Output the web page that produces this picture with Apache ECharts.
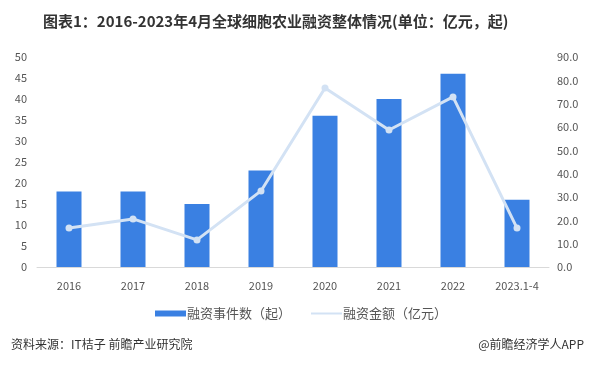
<!DOCTYPE html>
<html><head><meta charset="utf-8">
<script src="https://cdn.jsdelivr.net/npm/echarts@6/dist/echarts.min.js"></script>
<style>html,body{margin:0;padding:0;background:#fff}#c{width:591px;height:367px}</style>
</head><body><div id="c"></div>
<script>
const categories = ['2016','2017','2018','2019','2020','2021','2022','2023.1-4'];
const eventCounts = [18, 18, 15, 23, 36, 40, 46, 16];
const amounts = [16.7, 20.6, 11.6, 32.6, 76.7, 58.7, 72.9, 16.7];
const leftTicks = {min: 0, max: 50, interval: 5};
const rightTicks = {min: 0, max: 90, interval: 10};

const chart = echarts.init(document.getElementById('c'));
const font = '"Microsoft YaHei","Noto Sans CJK SC",sans-serif';
chart.setOption({
  animation: false,
  textStyle: {fontFamily: font},
  title: [{
    text: '图表1：2016-2023年4月全球细胞农业融资整体情况(单位：亿元，起)',
    left: 38, top: 9,
    textStyle: {fontSize: 15, fontWeight: 'bold', color: '#333', fontFamily: font}
  }, {
    text: '资料来源：IT桔子 前瞻产业研究院', left: 6, top: 333,
    textStyle: {fontSize: 12, fontWeight: 'normal', color: '#333', fontFamily: font}
  }, {
    text: '@前瞻经济学人APP', right: 2, top: 333,
    textStyle: {fontSize: 12, fontWeight: 'normal', color: '#333', fontFamily: font}
  }],
  legend: {
    top: 302, left: 150, itemGap: 20, itemWidth: 31, itemHeight: 6,
    textStyle: {fontSize: 13, color: '#555', fontFamily: font, padding: [0, 0, 0, -4]},
    data: [{name: '融资事件数（起）', icon: 'rect'}, {name: '融资金额（亿元）', icon: 'path://M0,4.5L31,4.5L31,6.5L0,6.5Z'}]
  },
  grid: {left: 37, right: 42, top: 57, bottom: 100, containLabel: false},
  xAxis: {
    type: 'category', data: categories,
    axisLine: {lineStyle: {color: '#d9d9d9'}}, axisTick: {show: false},
    axisLabel: {color: '#555', fontSize: 11, margin: 13}
  },
  yAxis: [{
    type: 'value', min: leftTicks.min, max: leftTicks.max, interval: leftTicks.interval,
    splitLine: {show: false}, axisLine: {show: false}, axisTick: {show: false},
    axisLabel: {color: '#555', fontSize: 11, margin: 10}
  }, {
    type: 'value', min: rightTicks.min, max: rightTicks.max, interval: rightTicks.interval,
    splitLine: {show: false}, axisLine: {show: false}, axisTick: {show: false},
    axisLabel: {color: '#555', fontSize: 11, margin: 8, formatter: v => v.toFixed(1)}
  }],
  series: [{
    name: '融资事件数（起）', type: 'bar', data: eventCounts, barWidth: 25,
    itemStyle: {color: '#3a80e2'}
  }, {
    name: '融资金额（亿元）', type: 'line', yAxisIndex: 1, data: amounts,
    symbol: 'circle', symbolSize: 7,
    lineStyle: {color: '#d3e2f4', width: 3},
    itemStyle: {color: '#d3e2f4'}
  }]
});
</script></body></html>
